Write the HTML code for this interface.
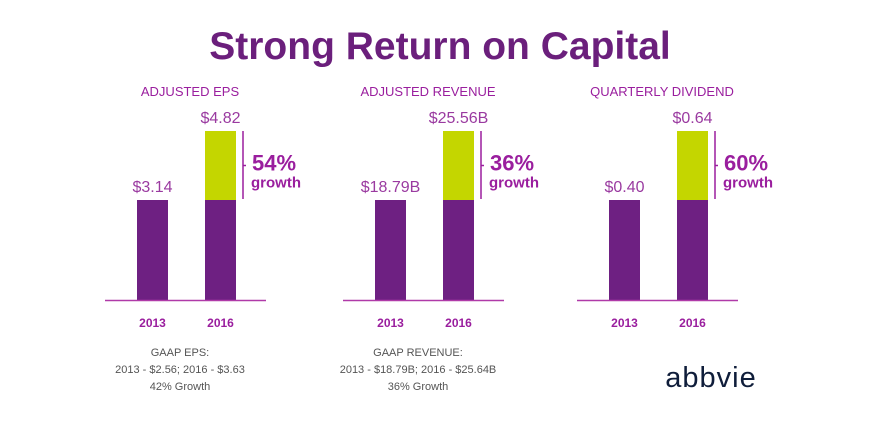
<!DOCTYPE html>
<html><head><meta charset="utf-8"><style>
body{margin:0;background:#fff;}
svg text{font-family:"Liberation Sans",sans-serif;}
</style></head><body>
<svg id="c" width="880" height="440" viewBox="0 0 880 440">
<text x="440" y="59" text-anchor="middle" font-size="39" font-weight="bold" fill="#6b1f7c">Strong Return on Capital</text>
<g id="panels"></g>
<text x="180" y="356" text-anchor="middle" font-size="11" fill="#555">GAAP EPS:</text>
<text x="180" y="373" text-anchor="middle" font-size="11" fill="#555">2013 - $2.56; 2016 - $3.63</text>
<text x="180" y="390" text-anchor="middle" font-size="11" fill="#555">42% Growth</text>
<text x="418" y="356" text-anchor="middle" font-size="11" fill="#555">GAAP REVENUE:</text>
<text x="418" y="373" text-anchor="middle" font-size="11" fill="#555">2013 - $18.79B; 2016 - $25.64B</text>
<text x="418" y="390" text-anchor="middle" font-size="11" fill="#555">36% Growth</text>
<text x="711" y="387" text-anchor="middle" font-size="29" fill="#0f1d3a" letter-spacing="1">abbvie</text>
</svg>
<script>
const panelTitles=["ADJUSTED EPS","ADJUSTED REVENUE","QUARTERLY DIVIDEND"];
const years=["2013","2016"];
const values2013=[3.14,18.79,0.40];
const values2016=[4.82,25.56,0.64];
const valueLabels2013=["$3.14","$18.79B","$0.40"];
const valueLabels2016=["$4.82","$25.56B","$0.64"];
const growthLabels=["54%","36%","60%"];

const NS="http://www.w3.org/2000/svg";
const g=document.getElementById('panels');
function mk(tag,attrs,txt){const e=document.createElementNS(NS,tag);for(const k in attrs)e.setAttribute(k,attrs[k]);if(txt!=null)e.textContent=txt;g.appendChild(e);return e;}
const panelX=[105,343,577];
const base=300,h1=100,h2=169;
panelTitles.forEach((t,i)=>{
  const x0=panelX[i];
  const v1=values2013[i],v2=values2016[i];
  const d0=(h2*v1-h1*v2)/(h2-h1);
  const y=v=>base-h1*(v-d0)/(v1-d0);
  const y1=y(v1),y2=y(v2);
  const bx1=x0+32,bx2=x0+100,bw=31;
  let e;
  e=mk('text',{x:x0+85,y:96,'text-anchor':'middle','font-size':13,fill:'#9a1e9e'},t);
  
  
  e=mk('rect',{x:bx1,y:y1,width:bw,height:base-y1,fill:'#6e2082'});
  
  
  e=mk('rect',{x:bx2,y:y1,width:bw,height:base-y1,fill:'#6e2082'});
  
  
  e=mk('rect',{x:bx2,y:y2,width:bw,height:y1-y2,fill:'#c4d600'});
  
  
  e=mk('line',{x1:x0,x2:x0+161,y1:base+0.5,y2:base+0.5,stroke:'#b03aa8','stroke-width':1.5});
  
  
  e=mk('text',{x:bx1+bw/2,y:y1-8,'text-anchor':'middle','font-size':16,fill:'#9a3aa0'},valueLabels2013[i]);
  
  
  e=mk('text',{x:bx2+bw/2,y:y2-8,'text-anchor':'middle','font-size':16,fill:'#9a3aa0'},valueLabels2016[i]);
  
  
  [bx1,bx2].forEach((bx,j)=>{
    e=mk('text',{x:bx+bw/2,y:327,'text-anchor':'middle','font-size':12,'font-weight':'bold',fill:'#9a1e9e'},years[j]);
    
    
  });
  const lx=bx2+bw+7;
  e=mk('line',{x1:lx,x2:lx,y1:y2,y2:y1-1,stroke:'#9a1e9e','stroke-width':1.5});
  
  
  e=mk('line',{x1:lx,x2:lx+3,y1:(y1+y2)/2,y2:(y1+y2)/2,stroke:'#9a1e9e','stroke-width':1.5});
  
  
  e=mk('text',{x:lx+9,y:(y1+y2)/2+5,'font-size':22,'font-weight':'bold',fill:'#9a1e9e'},growthLabels[i]);
  
  
  e=mk('text',{x:lx+8,y:(y1+y2)/2+22,'font-size':15,'font-weight':'bold',fill:'#9a1e9e'},'growth');
  
  
});
</script>
</body></html>
